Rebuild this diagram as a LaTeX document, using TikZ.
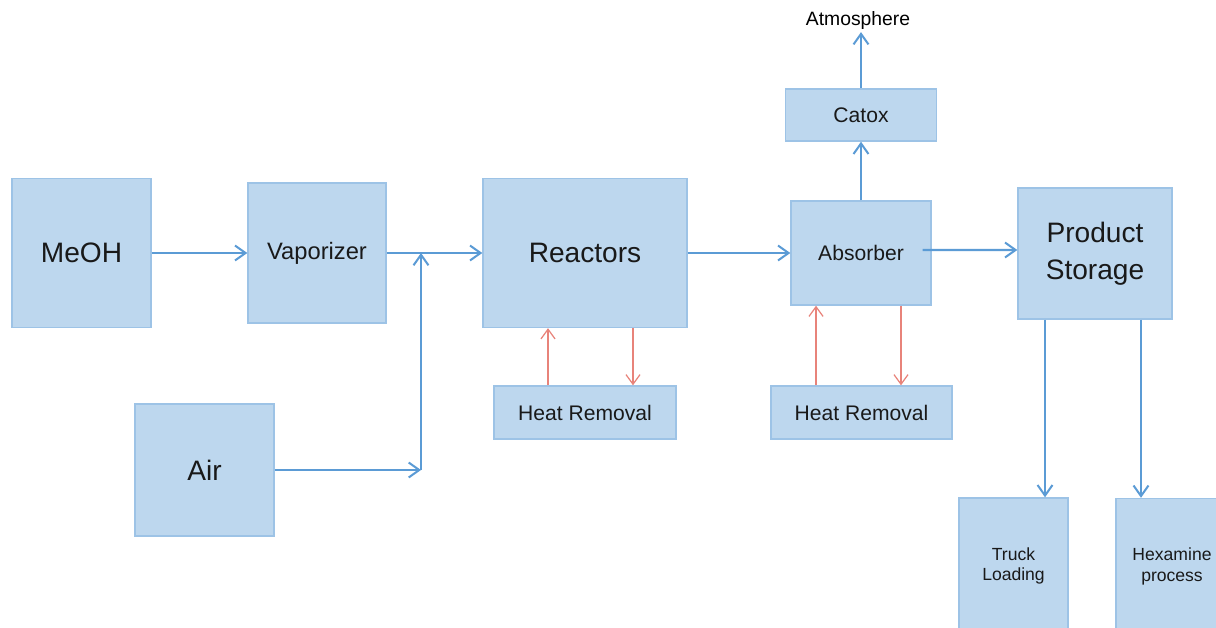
\documentclass[tikz,border=0pt]{standalone}
\usepackage{fontspec}
\setmainfont{Liberation Sans}
\usepackage{xcolor}
\usetikzlibrary{arrows.meta, positioning}
\definecolor{boxfill}{HTML}{BDD7EE}
\definecolor{boxline}{HTML}{9DC3E6}
\definecolor{flowblue}{HTML}{5B9BD5}
\definecolor{heatred}{HTML}{E8837A}

\begin{document}
\begin{tikzpicture}[x=0.02cm, y=-0.02cm,
    unit/.style={draw=boxline, line width=0.8pt, fill=boxfill, align=center,
                 inner sep=2pt, text=black!90},
    big/.style={unit, font=\fontsize{16}{20}\selectfont},
    mid/.style={unit, font=\fontsize{13.5}{16}\selectfont},
    small/.style={unit, font=\fontsize{12}{14}\selectfont},
    tiny/.style={unit, font=\fontsize{10}{11.5}\selectfont},
    flow/.style={-{Straight Barb[length=6pt,width=8.5pt]}, line width=1.15pt, flowblue},
    heat/.style={-{Straight Barb[length=5.5pt,width=8pt]}, line width=0.7pt, heatred}
  ]
    \useasboundingbox (0,0) rectangle (1216,628);

    \node[big, minimum width=2.78cm, minimum height=2.98cm] (meoh) at (81.5,253) {MeOH};
    \node[mid, minimum width=2.76cm, minimum height=2.80cm] (vapor) at (317,253) {Vaporizer};
    \node[big, minimum width=2.78cm, minimum height=2.64cm] (air) at (204.5,470) {Air};
    \node[big, minimum width=4.08cm, minimum height=2.98cm] (reactors) at (585,253) {Reactors};
    \node[small, minimum width=3.64cm, minimum height=1.06cm] (heat1) at (585,412.5) {Heat Removal};
    \node[small, minimum width=2.80cm, minimum height=2.08cm] (absorber) at (861,253) {Absorber};
    \node[small, minimum width=3.62cm, minimum height=1.06cm] (heat2) at (861.5,412.5) {Heat Removal};
    \node[small, minimum width=3.02cm, minimum height=1.04cm] (catox) at (861,115) {Catox};
    \node[font=\fontsize{11}{13}\selectfont, inner sep=1pt] (atmos) at (858,21) {Atmosphere};
    \node[big, minimum width=3.08cm, minimum height=2.62cm] (storage) at (1095,253.5)
      {Product\\[1pt]Storage};
    \node[tiny, minimum width=2.18cm, minimum height=2.72cm] (truck) at (1013.5,566)
      {Truck\\Loading};
    \node[tiny, minimum width=2.24cm, minimum height=2.72cm] (hexa) at (1172,566.5)
      {Hexamine\\process};

    \coordinate (mix) at (421,253);
    \coordinate (airin) at (421,470);

    \draw[flow] (meoh.east) -- (meoh.east -| vapor.west);
    \draw[flow] (vapor.east) -- (vapor.east -| reactors.west);
    \draw[flow] (air.east) -- (airin);
    \draw[flow] (airin) -- (mix);
    \draw[flow] (reactors.east) -- (reactors.east -| absorber.west);
    \draw[flow] (absorber.north) -- (catox.south);
    \draw[flow] (catox.north) -- (catox.north |- atmos.south);
    \draw[flow] ([shift={(-9,-3)}]absorber.east) -- ([yshift=0.06cm]absorber.east -| storage.west);
    \draw[flow] ([xshift=-1cm]storage.south) -- ([xshift=-1cm]storage.south |- truck.north);
    \draw[flow] ([xshift=0.92cm]storage.south) -- ([xshift=0.92cm]storage.south |- hexa.north);

    % heat removal loops
    \draw[heat] ([xshift=-0.74cm]heat1.north) -- ([xshift=-0.74cm]heat1.north |- reactors.south);
    \draw[heat] ([xshift=0.96cm]reactors.south) -- ([xshift=0.96cm]reactors.south |- heat1.north);
    \draw[heat] ([xshift=-0.91cm]heat2.north) -- ([xshift=-0.91cm]heat2.north |- absorber.south);
    \draw[heat] ([xshift=0.79cm]heat2.north |- absorber.south) -- ([xshift=0.79cm]heat2.north);
  \end{tikzpicture}
\end{document}
